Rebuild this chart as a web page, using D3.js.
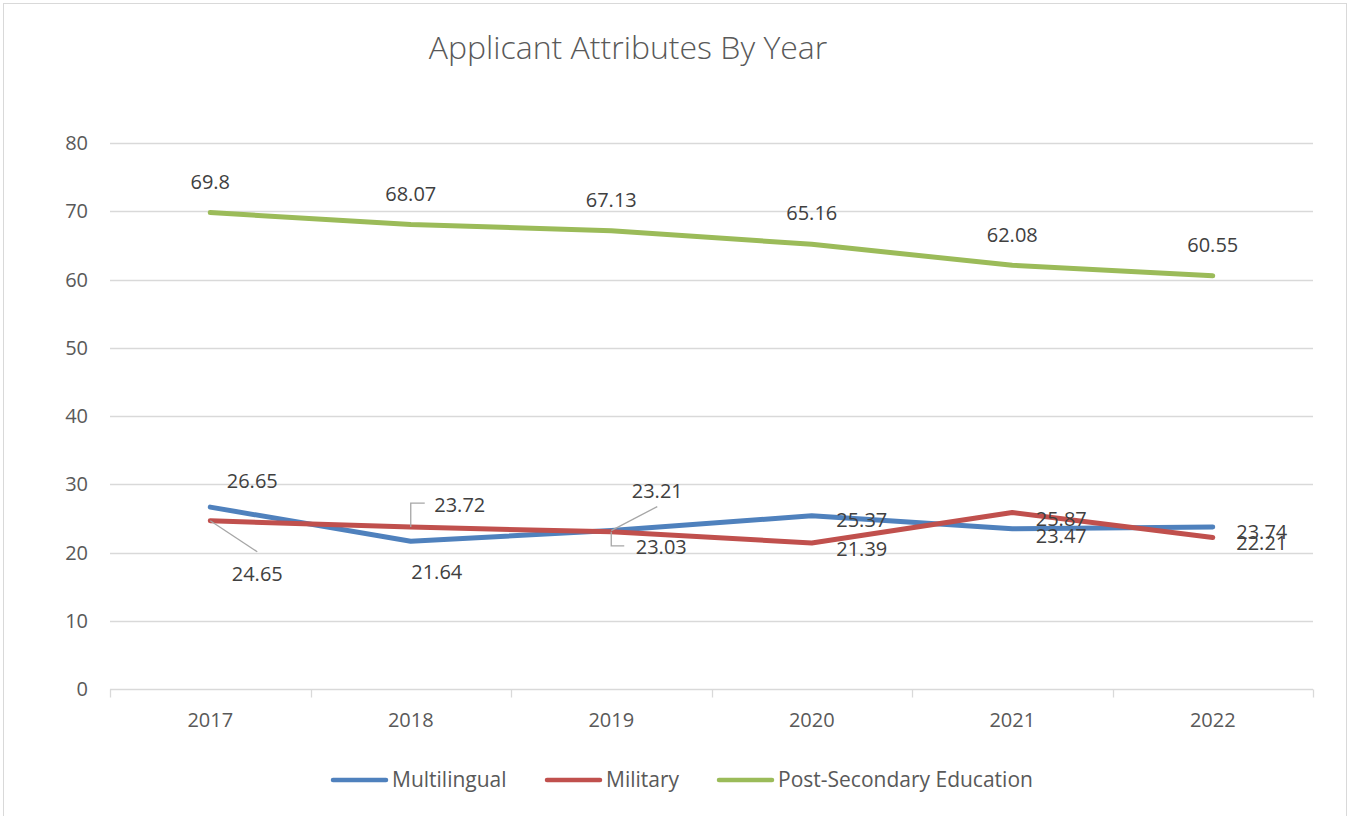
<!DOCTYPE html>
<html>
<head>
<meta charset="utf-8">
<script src="https://cdn.jsdelivr.net/npm/d3@7"></script>
<style>
	body { margin: 0; background: #fff; }
	svg text { font-family: "Open Sans", "Noto Sans", sans-serif; }
</style>
</head>
<body>
<svg id="chart" width="1352" height="816"></svg>
<script>
(function() {

	// data
	var years = ["2017", "2018", "2019", "2020", "2021", "2022"];
	var multilingual = [26.65, 21.64, 23.21, 25.37, 23.47, 23.74];
	var military = [24.65, 23.72, 23.03, 21.39, 25.87, 22.21];
	var postSecondary = [69.8, 68.07, 67.13, 65.16, 62.08, 60.55];
	var yTicks = [0, 10, 20, 30, 40, 50, 60, 70, 80];
	var seriesNames = ["Multilingual", "Military", "Post-Secondary Education"];

	// label placement (offset of label centre from the point, plus leader lines)
	var labelOffsets = {
		"Multilingual": [
			{dx: 42, dy: -26}, {dx: 26, dy: 30},
			{dx: 46, dy: -40, leader: [[0, 0], [46, -24]]},
			{dx: 50, dy: 4}, {dx: 49, dy: 7}, {dx: 49, dy: 5}
		],
		"Military": [
			{dx: 47, dy: 53, leader: [[0, 0], [47, 31]]},
			{dx: 49, dy: -22, leader: [[0, 0], [0, -24], [14, -24]]},
			{dx: 50, dy: 15, leader: [[0, 0], [0, 14], [13, 14]]},
			{dx: 50, dy: 6}, {dx: 49, dy: 6}, {dx: 49, dy: 5}
		],
		"Post-Secondary Education": [
			{dx: 0, dy: -31}, {dx: 0, dy: -31}, {dx: 0, dy: -31},
			{dx: 0, dy: -31}, {dx: 0, dy: -31}, {dx: 0, dy: -31}
		]
	};

	var series = [
		{name: seriesNames[0], values: multilingual, color: "#4f81bd"},
		{name: seriesNames[1], values: military, color: "#c0504d"},
		{name: seriesNames[2], values: postSecondary, color: "#9bbb59"}
	];

	var margin = {top: 143, left: 110, right: 39, bottom: 127};
	var W = 1352, H = 816;

	var svg = d3.select("#chart");

	// outer frame
	svg.append("rect")
		.attr("x", 3.5)
		.attr("y", 3.5)
		.attr("width", 1343)
		.attr("height", 840)
		.attr("fill", "none")
		.attr("stroke", "#d9d9d9")
		.attr("stroke-width", 1);

	svg.append("text")
		.attr("x", 628)
		.attr("y", 59)
		.attr("text-anchor", "middle")
		.style("font-size", "32px")
		.style("font-weight", 300)
		.style("fill", "#595959")
		.text("Applicant Attributes By Year");

	var x = d3.scaleBand()
		.domain(years)
		.range([margin.left, W - margin.right]);

	var y = d3.scaleLinear()
		.domain([0, 80])
		.range([H - margin.bottom, margin.top]);

	var cx = d => x(d) + x.bandwidth() / 2;

	// gridlines
	svg.append("g")
		.selectAll("line")
		.data(yTicks.filter(d => d > 0))
		.enter()
		.append("line")
			.attr("x1", x.range()[0])
			.attr("x2", x.range()[1])
			.attr("y1", d => Math.round(y(d)) + 0.5)
			.attr("y2", d => Math.round(y(d)) + 0.5)
			.attr("stroke", "#d9d9d9")
			.attr("stroke-width", 1.3);

	// y labels
	svg.append("g")
		.selectAll("text")
		.data(yTicks)
		.enter()
		.append("text")
			.attr("x", 88)
			.attr("y", d => y(d))
			.attr("dy", "0.35em")
			.attr("text-anchor", "end")
			.style("font-size", "20px")
			.style("fill", "#595959")
			.text(d => d);

	// x axis
	var xAxis = d3.axisBottom(x).tickSize(0).tickPadding(0).tickFormat("");
	var xg = svg.append("g")
		.attr("transform", "translate(0," + (Math.round(y(0)) + 0.5) + ")")
		.call(xAxis);
	xg.select(".domain")
		.attr("stroke", "#d9d9d9")
		.attr("stroke-width", 1.3)
		.attr("d", "M" + x.range()[0] + ",0H" + x.range()[1]);

	var boundaries = years.map(d => x(d)).concat([x.range()[1]]);
	xg.selectAll(".bnd")
		.data(boundaries)
		.enter()
		.append("line")
			.attr("class", "bnd")
			.attr("x1", d => Math.round(d) + 0.5)
			.attr("x2", d => Math.round(d) + 0.5)
			.attr("y1", 0)
			.attr("y2", 8)
			.attr("stroke", "#d9d9d9")
			.attr("stroke-width", 1.3);

	svg.append("g")
		.selectAll("text")
		.data(years)
		.enter()
		.append("text")
			.attr("x", d => cx(d))
			.attr("y", 720)
			.attr("dy", "0.35em")
			.attr("text-anchor", "middle")
			.style("font-size", "20px")
			.style("fill", "#595959")
			.text(d => d);

	// lines
	var line = d3.line()
		.x((d, i) => cx(years[i]))
		.y(d => y(d));

	svg.append("g")
		.selectAll("path")
		.data(series)
		.enter()
		.append("path")
			.attr("d", d => line(d.values))
			.attr("fill", "none")
			.attr("stroke", d => d.color)
			.attr("stroke-width", 5)
			.attr("stroke-linecap", "round")
			.attr("stroke-linejoin", "round");

	// data labels
	series.forEach(function(s) {
		var g = svg.append("g");
		s.values.forEach(function(v, i) {
			var px = cx(years[i]), py = y(v);
			var off = labelOffsets[s.name][i];
			if (off.leader) {
				g.append("path")
					.attr("d", d3.line()(off.leader.map(p => [px + p[0], py + p[1]])))
					.attr("fill", "none")
					.attr("stroke", "#a6a6a6")
					.attr("stroke-width", 1.3);
			}
			g.append("text")
				.attr("x", px + off.dx)
				.attr("y", py + off.dy)
				.attr("dy", "0.36em")
				.attr("text-anchor", "middle")
				.style("font-size", "20px")
				.style("fill", "#404040")
				.text(v);
		});
	});

	// legend
	var legendX = [331, 545, 717];
	var legend = svg.append("g")
		.selectAll("g")
		.data(series)
		.enter()
		.append("g")
			.attr("transform", (d, i) => "translate(" + legendX[i] + ",780)");

	legend.append("line")
		.attr("x1", 2)
		.attr("x2", 55)
		.attr("y1", 0)
		.attr("y2", 0)
		.attr("stroke", d => d.color)
		.attr("stroke-width", 4.5)
		.attr("stroke-linecap", "round");

	legend.append("text")
		.attr("x", 61)
		.attr("y", 0)
		.attr("dy", "0.35em")
		.style("font-size", "21px")
		.style("fill", "#595959")
		.text(d => d.name);

})();
</script>
</body>
</html>
